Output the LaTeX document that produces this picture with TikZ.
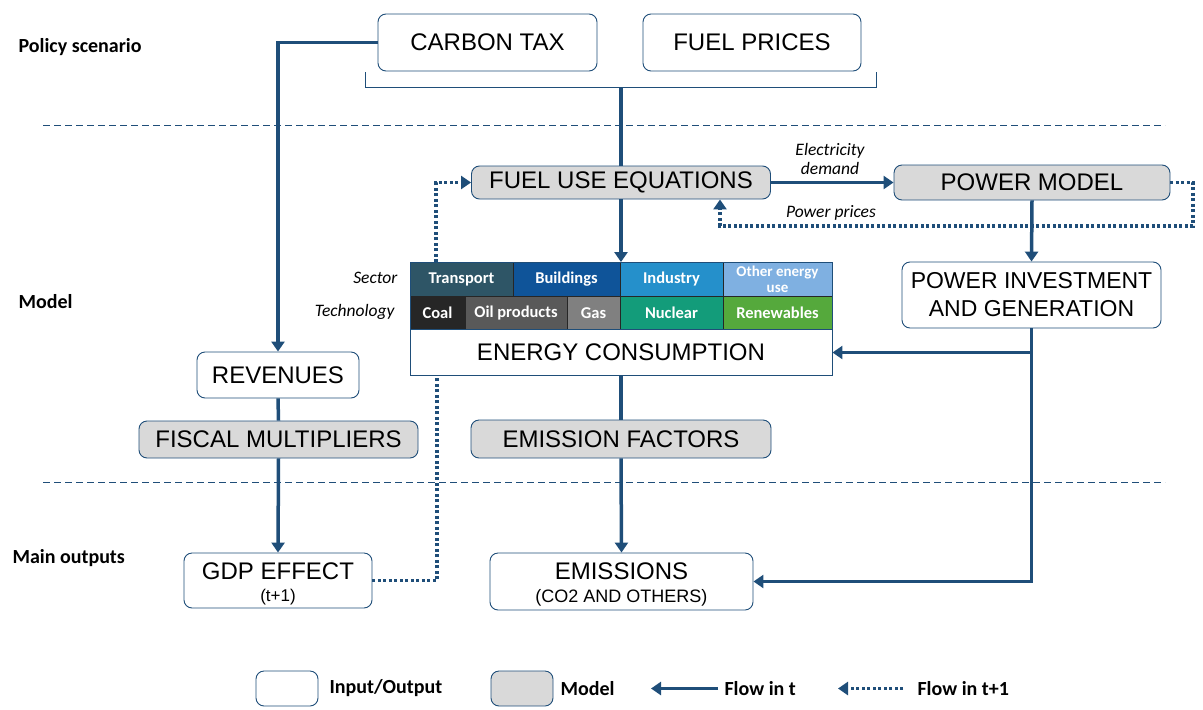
\documentclass[tikz,border=0pt]{standalone}
\usepackage{fontspec}
\setmainfont{Liberation Sans}
\newfontfamily\calfont{Carlito}
\usetikzlibrary{arrows.meta}
\definecolor{navy}{HTML}{1F4E79}
\definecolor{modelgray}{HTML}{D9D9D9}
\definecolor{cTransport}{HTML}{2E5566}
\definecolor{cBuildings}{HTML}{0F5499}
\definecolor{cIndustry}{HTML}{2590CB}
\definecolor{cOther}{HTML}{7FB0E1}
\definecolor{cCoal}{HTML}{262626}
\definecolor{cOil}{HTML}{595959}
\definecolor{cGas}{HTML}{808080}
\definecolor{cNuclear}{HTML}{139C7A}
\definecolor{cRenew}{HTML}{55A93C}
\begin{document}
\begin{tikzpicture}[x=1pt,y=-1pt,
  io/.style={draw=navy, line width=0.9pt, rounded corners=8pt, fill=white, inner sep=0pt, align=center, font=\fontsize{24}{27}\selectfont},
  model/.style={io, fill=modelgray},
  flow/.style={draw=navy, line width=3.5pt, -{Triangle[width=13pt,length=10pt]}},
  plainflow/.style={draw=navy, line width=3.5pt},
  dotflow/.style={draw=navy, line width=3.5pt, dash pattern=on 3pt off 2.5pt, -{Triangle[width=13pt,length=10pt]}},
  dotplain/.style={draw=navy, line width=3.5pt, dash pattern=on 3pt off 2.5pt},
  cell/.style={draw=black!85, line width=0.8pt, inner sep=0pt, text=white, align=center, font=\calfont\bfseries\fontsize{16.5}{16.5}\selectfont},
  sect/.style={anchor=west, font=\calfont\bfseries\fontsize{20}{22}\selectfont},
  lbl/.style={font=\calfont\itshape\fontsize{17.5}{19}\selectfont, align=center},
  leg/.style={anchor=west, font=\calfont\bfseries\fontsize{20}{22}\selectfont},
  sep/.style={draw=navy, line width=0.9pt, dash pattern=on 7pt off 4pt}
]
\useasboundingbox (0,0) rectangle (1203,710);

% section labels
\node[sect] (s1) at (15,47) {Policy scenario};
\node[sect] (s2) at (15,302) {Model};
\node[sect] (s3) at (9,558) {Main outputs};

% separators
\draw[sep] (43,125) -- (1165,125);
\draw[sep] (43,482) -- (1165,482);

% policy boxes
\node[io, minimum width=219pt, minimum height=57pt] (ct) at (487.5,42.5) {CARBON TAX};
\node[io, minimum width=218pt, minimum height=57pt] (fp) at (752,42.5) {FUEL PRICES};
\draw[navy, line width=0.9pt] (365,72) -- (365,87) -- (876,87) -- (876,72);
\coordinate (brk) at (621,87);

% model boxes
\node[model, minimum width=299pt, minimum height=33pt] (fue) at (621,182.5) {FUEL USE EQUATIONS};
\node[model, minimum width=276pt, minimum height=35pt] (pm) at (1032,182.5) {POWER MODEL};
\node[io, minimum width=259pt, minimum height=66pt, font=\fontsize{23}{28}\selectfont] (pig) at (1031.5,295) {POWER INVESTMENT\\AND GENERATION};
\node[io, minimum width=162pt, minimum height=46pt] (rev) at (278,375) {REVENUES};
\node[model, minimum width=279pt, minimum height=37pt] (fm) at (278.5,439.5) {FISCAL MULTIPLIERS};
\node[model, minimum width=300pt, minimum height=38pt] (ef) at (621,439) {EMISSION FACTORS};

% table
\node[cell, fill=cTransport, minimum width=103pt, minimum height=34pt] (t1) at (461.5,279.5) {Transport};
\node[cell, fill=cBuildings, minimum width=107pt, minimum height=34pt] (t2) at (566.5,279.5) {Buildings};
\node[cell, fill=cIndustry, minimum width=103pt, minimum height=34pt] (t3) at (671.5,279.5) {Industry};
\node[cell, fill=cOther, minimum width=109pt, minimum height=34pt, font=\calfont\bfseries\fontsize{15}{16}\selectfont] (t4) at (777.5,279.5) {Other energy\\use};
\node[cell, fill=cCoal, minimum width=55pt, minimum height=33pt] (u1) at (437.5,313) {Coal};
\node[cell, fill=cOil, minimum width=102pt, minimum height=33pt] (u2) at (516,313) {Oil products};
\node[cell, fill=cGas, minimum width=53pt, minimum height=33pt] (u3) at (593.5,313) {Gas};
\node[cell, fill=cNuclear, minimum width=103pt, minimum height=33pt] (u4) at (671.5,313) {Nuclear};
\node[cell, fill=cRenew, minimum width=109pt, minimum height=33pt] (u5) at (777.5,313) {Renewables};
\node[draw=navy, line width=0.9pt, fill=white, minimum width=422pt, minimum height=46pt, inner sep=0pt, font=\fontsize{24}{27}\selectfont] (ec) at (621,352.5) {ENERGY CONSUMPTION};
\node[draw=navy, line width=0.9pt, minimum width=422pt, minimum height=113pt, inner sep=0pt] (tbl) at (621,319) {};
\node[lbl, anchor=east] (lsec) at (401,278) {Sector};
\node[lbl, anchor=east] (ltech) at (398,312) {Technology};

% outputs
\node[io, minimum width=188pt, minimum height=55pt] (gdp) at (278,580.5) {};
\node[font=\fontsize{24}{27}\selectfont] (gdpt) at (278,571) {GDP EFFECT};
\node[font=\fontsize{17}{19}\selectfont] (gdps) at (278,597) {(t+1)};
\node[io, minimum width=263pt, minimum height=57pt] (em) at (621.5,581.5) {};
\node[font=\fontsize{24}{27}\selectfont] (emt) at (621.5,571) {EMISSIONS};
\node[font=\fontsize{18}{20}\selectfont] (ems) at (621.5,598) {(CO2 AND OTHERS)};

% connectors
\draw[plainflow] (brk) -- (fue.north);
\draw[flow] (fue.south) -- (tbl.north);
\coordinate (ctc) at (278,42.5);
\draw[flow] (ct.west) -- (ctc) -- (rev.north);
\draw[flow] (fue.east) -- (pm.west);
\node[lbl] (led) at (830,159) {Electricity\\demand};
\coordinate (pmr) at (1193,182.5);
\coordinate (ppb) at (720,226);
\draw[dotflow] (pm.east) -- (pmr) |- (ppb) -- (ppb |- fue.south);
\node[lbl] (lpp) at (831,213) {Power prices};
\coordinate (dl) at (436,182.5);
\draw[dotflow] (dl |- tbl.north) -- (dl) -- (fue.west);
\draw[flow] (pm.south) -- (pig.north);
\draw[flow] (pig.south) |- (em.east);
\draw[flow] (pig.south |- ec.east) -- (ec.east);
\draw[plainflow] (rev.south) -- (fm.north);
\draw[flow] (fm.south) -- (gdp.north);
\draw[plainflow] (ec.south) -- (ef.north);
\draw[flow] (ef.south) -- (em.north);
\coordinate (gd) at (437,580.5);
\draw[dotplain] (gdp.east) -- (gd) -- (gd |- ec.south);

% legend
\node[io, minimum width=62pt, minimum height=35pt] (lio) at (287,688.5) {};
\node[leg] (lio t) at (326,688.5) {Input/Output};
\node[model, minimum width=62pt, minimum height=35pt] (lmod) at (522,688.5) {};
\node[leg] (lmod t) at (557,688.5) {Model};
\node[leg] (lft) at (721,688.5) {Flow in t};
\node[leg] (lft1) at (914,688.5) {Flow in t+1};
\coordinate (la1) at (718,688.5);
\coordinate (la2) at (651,688.5);
\draw[flow] (la1) -- (la2);
\coordinate (lb1) at (903,688.5);
\coordinate (lb2) at (838,688.5);
\draw[dotflow] (lb1) -- (lb2);
\end{tikzpicture}
\end{document}
